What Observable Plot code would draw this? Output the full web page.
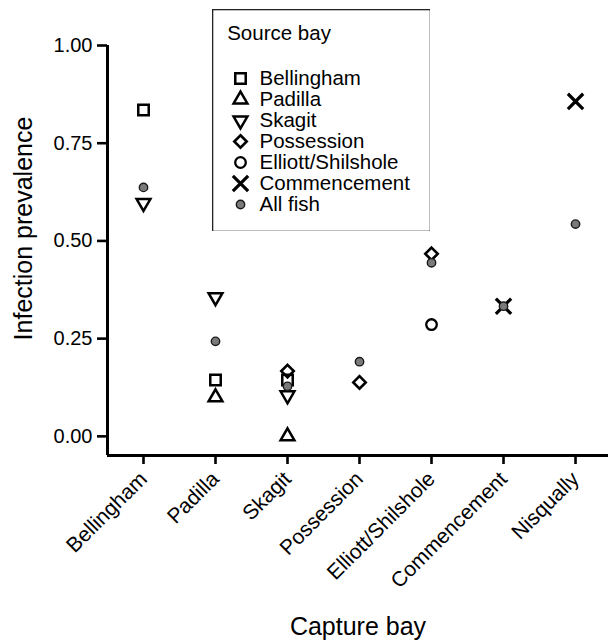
<!DOCTYPE html>
<html>
<head>
<meta charset="utf-8">
<script src="https://cdn.jsdelivr.net/npm/d3@7"></script>
<script src="https://cdn.jsdelivr.net/npm/@observablehq/plot@0.6"></script>
<style>
  html, body { margin: 0; padding: 0; background: #fff; }
  #wrap { position: relative; width: 608px; height: 642px; font-family: "Liberation Sans", Arial, Helvetica, sans-serif; }
  #wrap svg { display: block; }
  #legend { position: absolute; left: 212px; top: 9px; }
</style>
</head>
<body>
<div id="wrap"><div id="main"></div><div id="legend"></div></div>
<script>
// ---- data ----
const captureBays = ["Bellingham", "Padilla", "Skagit", "Possession", "Elliott/Shilshole", "Commencement", "Nisqually"];
const sourceBays = ["Bellingham", "Padilla", "Skagit", "Possession", "Elliott/Shilshole", "Commencement", "All fish"];
// infection prevalence by capture bay, for fish from each source bay (null = none)
const fromBellingham   = [0.835, 0.144, 0.144, null, null, null, null];
const fromPadilla      = [null, 0.100, 0.000, null, null, null, null];
const fromSkagit       = [0.597, 0.356, 0.105, null, null, null, null];
const fromPossession   = [null, null, 0.167, 0.138, 0.467, null, null];
const fromElliott      = [null, null, null, null, 0.286, null, null];
const fromCommencement = [null, null, null, null, null, 0.333, 0.857];
const allFish          = [0.637, 0.243, 0.128, 0.191, 0.444, 0.333, 0.543];
const yTicks = [0, 0.25, 0.5, 0.75, 1];
const yTitle = "Infection prevalence";
const xTitle = "Capture bay";
const legendTitle = "Source bay";

// ---- styling ----
const downTriangle = {
  draw(context, size) {
    const s = Math.sqrt(size) * 0.6824, t = s / 2, u = s * Math.sqrt(3) / 2;
    context.moveTo(0, s); context.lineTo(u, -t); context.lineTo(-u, -t); context.closePath();
  }
};
const seriesValues = [fromBellingham, fromPadilla, fromSkagit, fromPossession, fromElliott, fromCommencement, allFish];
const styles = [
  {symbol: "square", r: 5.9, fill: "none", stroke: "#000", strokeWidth: 2.5},
  {symbol: "triangle2", r: 6.6, fill: "none", stroke: "#000", strokeWidth: 2.5},
  {symbol: downTriangle, r: 6.6, fill: "none", stroke: "#000", strokeWidth: 2.5},
  {symbol: "diamond2", r: 5.6, fill: "none", stroke: "#000", strokeWidth: 2.6},
  {symbol: "circle", r: 5.3, fill: "none", stroke: "#000", strokeWidth: 2.3},
  {symbol: "times", r: 7.0, fill: "none", stroke: "#000", strokeWidth: 3.2},
  {symbol: "circle", r: 4.2, fill: "#7a7a7a", stroke: "#1a1a1a", strokeWidth: 1.4}
];
const series = sourceBays.map((name, k) => ({
  name,
  rows: seriesValues[k].map((v, i) => ({i, capture: captureBays[i], value: v})).filter(d => d.value !== null),
  style: styles[k]
}));

const xDomain = [-0.5, 6.458];
const yDomain = [-0.049, 1];
const font = '"Liberation Sans", Arial, Helvetica, sans-serif';

const main = Plot.plot({
  width: 608,
  height: 642,
  marginLeft: 107,
  marginRight: 0,
  marginTop: 45,
  marginBottom: 187,
  style: {fontFamily: font, fontSize: "20px", color: "#000", background: "white", overflow: "visible"},
  x: {type: "linear", domain: xDomain},
  y: {domain: yDomain},
  marks: [
    Plot.axisY({ticks: yTicks, tickFormat: d3.format(".2f"), tickSize: 10, tickPadding: 5, strokeWidth: 2.6, label: null, fontSize: 20}),
    Plot.axisX({ticks: d3.range(captureBays.length), tickFormat: i => captureBays[i], tickRotate: -45, tickSize: 9, tickPadding: 11, strokeWidth: 2.6, label: null, fontSize: 21}),
    Plot.ruleX([xDomain[0]], {stroke: "#000", strokeWidth: 3}),
    Plot.ruleY([yDomain[0]], {stroke: "#000", strokeWidth: 3}),
    ...series.map(s => Plot.dot(s.rows, {x: "i", y: "value", ...s.style})),
    Plot.text([yTitle], {frameAnchor: "left", dx: -84, dy: -22, rotate: -90, textAnchor: "middle", lineAnchor: "middle", fontSize: 25, fill: "#000"}),
    Plot.text([xTitle], {frameAnchor: "bottom", dy: 171, textAnchor: "middle", lineAnchor: "middle", fontSize: 25, fill: "#000"})
  ]
});
document.getElementById("main").appendChild(main);

const legend = Plot.plot({
  width: 218,
  height: 222,
  margin: 0,
  style: {fontFamily: font, fontSize: "20.5px", color: "#000", background: "white"},
  y: {type: "point", domain: sourceBays, range: [57.7, 206], axis: null},
  marks: [
    Plot.frame({stroke: "#222", strokeWidth: 1.6}),
    Plot.text([legendTitle], {frameAnchor: "top-left", dx: 14.7, dy: 24, textAnchor: "start", lineAnchor: "middle", fontSize: 20.5, fill: "#000"}),
    ...series.map(s => Plot.dot([s.name], {y: d => d, frameAnchor: "left", dx: 28, ...s.style})),
    Plot.text(sourceBays, {y: d => d, text: d => d, frameAnchor: "left", dx: 47, textAnchor: "start", fontSize: 20.5, fill: "#000"})
  ]
});
document.getElementById("legend").appendChild(legend);
</script>
</body>
</html>
